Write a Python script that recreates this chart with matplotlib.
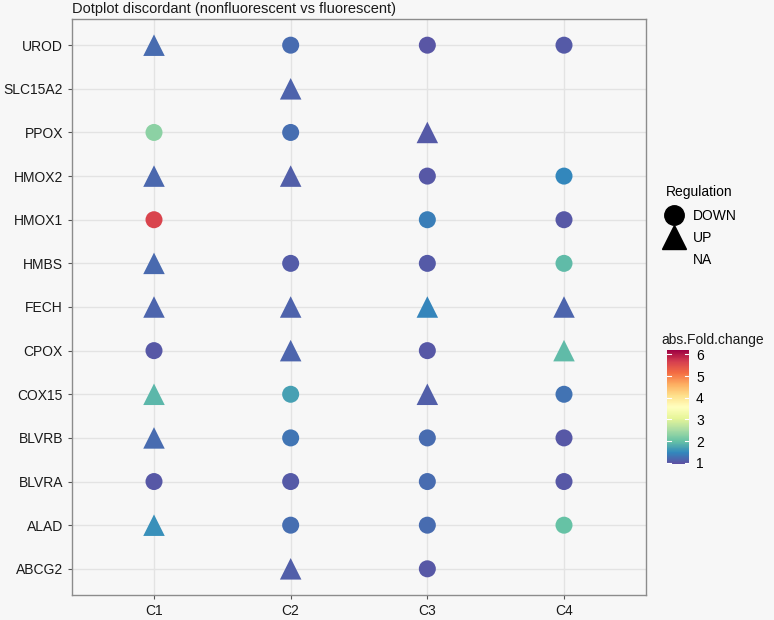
import numpy as np
import matplotlib
matplotlib.use("Agg")
import matplotlib.pyplot as plt
from matplotlib.lines import Line2D
from matplotlib.colors import Normalize

plt.rcParams['font.family'] = ['Liberation Sans', 'DejaVu Sans']

# ---------------- data ----------------
genes = ["ABCG2", "ALAD", "BLVRA", "BLVRB", "COX15", "CPOX", "FECH",
         "HMBS", "HMOX1", "HMOX2", "PPOX", "SLC15A2", "UROD"]
clusters = ["C1", "C2", "C3", "C4"]

pt_gene = ["UROD", "UROD", "UROD", "UROD",
           "SLC15A2",
           "PPOX", "PPOX", "PPOX",
           "HMOX2", "HMOX2", "HMOX2", "HMOX2",
           "HMOX1", "HMOX1", "HMOX1",
           "HMBS", "HMBS", "HMBS", "HMBS",
           "FECH", "FECH", "FECH", "FECH",
           "CPOX", "CPOX", "CPOX", "CPOX",
           "COX15", "COX15", "COX15", "COX15",
           "BLVRB", "BLVRB", "BLVRB", "BLVRB",
           "BLVRA", "BLVRA", "BLVRA", "BLVRA",
           "ALAD", "ALAD", "ALAD", "ALAD",
           "ABCG2", "ABCG2"]
pt_cluster = ["C1", "C2", "C3", "C4",
              "C2",
              "C1", "C2", "C3",
              "C1", "C2", "C3", "C4",
              "C1", "C3", "C4",
              "C1", "C2", "C3", "C4",
              "C1", "C2", "C3", "C4",
              "C1", "C2", "C3", "C4",
              "C1", "C2", "C3", "C4",
              "C1", "C2", "C3", "C4",
              "C1", "C2", "C3", "C4",
              "C1", "C2", "C3", "C4",
              "C2", "C3"]
pt_reg = ["UP", "DOWN", "DOWN", "DOWN",
          "UP",
          "DOWN", "DOWN", "UP",
          "UP", "UP", "DOWN", "DOWN",
          "DOWN", "DOWN", "DOWN",
          "UP", "DOWN", "DOWN", "DOWN",
          "UP", "UP", "UP", "UP",
          "DOWN", "UP", "DOWN", "UP",
          "UP", "DOWN", "UP", "DOWN",
          "UP", "DOWN", "DOWN", "DOWN",
          "DOWN", "DOWN", "DOWN", "DOWN",
          "UP", "DOWN", "DOWN", "DOWN",
          "UP", "DOWN"]
pt_fc = [1.22, 1.22, 1.03, 1.06,
         1.14,
         2.30, 1.25, 1.06,
         1.18, 1.10, 1.05, 1.48,
         5.60, 1.40, 1.05,
         1.20, 1.08, 1.06, 1.95,
         1.17, 1.14, 1.45, 1.17,
         1.05, 1.17, 1.05, 1.95,
         1.90, 1.70, 1.10, 1.28,
         1.22, 1.30, 1.22, 1.05,
         1.05, 1.07, 1.22, 1.05,
         1.55, 1.25, 1.22, 2.00,
         1.10, 1.05]

# ---------------- figure ----------------
BG = "#F7F7F7"
fig = plt.figure(figsize=(7.74, 6.2), dpi=100, facecolor=BG)
ax = fig.add_axes([72 / 774, 25 / 620, 574 / 774, 576 / 620])
ax.set_facecolor(BG)

cmap = plt.get_cmap("Spectral_r")
norm = Normalize(vmin=0.95, vmax=6.2)

x = np.array([clusters.index(c) + 1 for c in pt_cluster])
y = np.array([genes.index(g) + 1 for g in pt_gene])
reg = np.array(pt_reg)
fc = np.array(pt_fc)

for r, m, s in [("DOWN", "o", 150), ("UP", "^", 240)]:
    sel = reg == r
    sc = ax.scatter(x[sel], y[sel], c=fc[sel], cmap=cmap, norm=norm,
                    marker=m, s=s, linewidths=0, zorder=3)

ax.set_xlim(0.4, len(clusters) + 0.6)
ax.set_ylim(0.4, len(genes) + 0.6)
ax.set_xticks(range(1, len(clusters) + 1))
ax.set_xticklabels(clusters)
ax.set_yticks(range(1, len(genes) + 1))
ax.set_yticklabels(genes)
ax.tick_params(labelsize=10, length=3, color="#555555", labelcolor="#1a1a1a")
ax.grid(True, color="#E3E3E3", linewidth=1.0, zorder=0)
ax.set_axisbelow(True)
for sp in ax.spines.values():
    sp.set_color("#8c8c8c")
    sp.set_linewidth(1.0)

fig.text(72 / 774, 1 - 9 / 620, "Dotplot discordant (nonfluorescent vs fluorescent)",
         fontsize=10.5, ha="left", va="center", color="#1a1a1a")

# ---------------- legend: Regulation ----------------
handles = [Line2D([], [], marker="o", color="black", ls="", markersize=14),
           Line2D([], [], marker="^", color="black", ls="", markersize=17),
           Line2D([], [], marker="", color="none", ls="")]
leg = ax.legend(handles, ["DOWN", "UP", "NA"], title="Regulation",
                loc="upper left", bbox_to_anchor=(666 / 774, 1 - 185 / 620),
                bbox_transform=fig.transFigure, frameon=False, fontsize=10,
                title_fontsize=10, handlelength=1.2, handletextpad=0.7,
                labelspacing=0.6, borderaxespad=0, borderpad=0)
leg._legend_box.align = "left"
leg._legend_box.sep = 7

# ---------------- colorbar ----------------
cax = fig.add_axes([667 / 774, (620 - 464) / 620, 22 / 774, 114 / 620])
cb = fig.colorbar(sc, cax=cax)
cb.outline.set_visible(False)
cb.set_ticks([1, 2, 3, 4, 5, 6])
cax.tick_params(length=0, labelsize=10, pad=5)
for t in [1, 2, 3, 4, 5, 6]:
    cax.plot([0, 0.2], [t, t], color="white", lw=0.8, transform=cax.get_yaxis_transform())
    cax.plot([0.8, 1.0], [t, t], color="white", lw=0.8, transform=cax.get_yaxis_transform())
fig.text(661 / 774, 1 - 340 / 620, "abs.Fold.change", fontsize=10,
         ha="left", va="center", color="#1a1a1a")

fig.savefig("out.png", dpi=100, facecolor=BG)
